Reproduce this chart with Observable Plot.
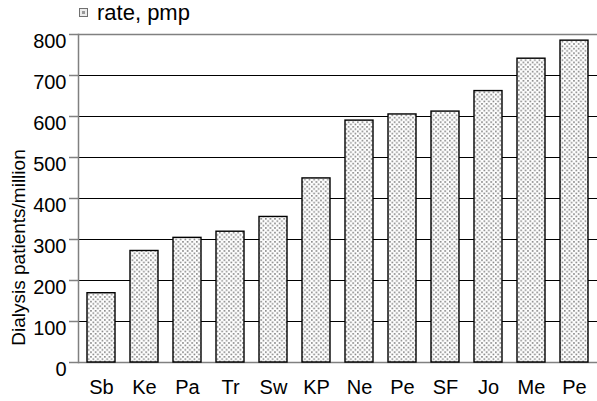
<!DOCTYPE html>
<html>
<head>
<meta charset="utf-8">
<script src="https://cdn.jsdelivr.net/npm/d3@7"></script>
<script src="https://cdn.jsdelivr.net/npm/@observablehq/plot@0.6"></script>
<style>
  html, body { margin: 0; padding: 0; background: #fff; }
  body { width: 597px; height: 401px; overflow: hidden; font-family: "Liberation Sans", Arial, sans-serif; }
  #legend { position: relative; height: 22px; }
  #legend .swatch { position: absolute; left: 79px; top: 8px; width: 7px; height: 7px; border: 1px solid #707070; background: #ececec; }
  #legend .swatch::after { content: ""; position: absolute; left: 2px; top: 2px; width: 3px; height: 3px; background: #9a9a9a; }
  #legend .label { position: absolute; left: 97px; top: 2px; font-size: 22px; line-height: 22px; color: #000; }
  svg { display: block; }
</style>
</head>
<body>
<div id="legend"><span class="swatch"></span><span class="label">rate, pmp</span></div>
<div id="chart"></div>
<script>
// Dialysis patients per million population, by centre
const centres = ["Sb", "Ke", "Pa", "Tr", "Sw", "KP", "Ne", "Pe", "SF", "Jo", "Me", "Pe"];
const rates = [169, 272, 304, 319, 355, 449, 590, 605, 612, 662, 741, 785];
const yTicks = [0, 100, 200, 300, 400, 500, 600, 700, 800];
const yLabel = "Dialysis patients/million";

// centre names repeat ("Pe"), so bars are keyed by position
const rows = centres.map((name, i) => ({i, name, rate: rates[i]}));
const innerGrid = yTicks.filter(t => t > 0 && t < 800);

const chart = Plot.plot({
  width: 597,
  height: 379,
  marginLeft: 78,
  marginRight: 0,
  marginTop: 12,
  marginBottom: 39,
  style: {fontFamily: "'Liberation Sans', Arial, sans-serif", fontSize: "20px", color: "#000", background: "#fff"},
  x: {type: "band", domain: d3.range(centres.length), paddingInner: 0.35, paddingOuter: 0.17, label: null},
  y: {domain: [0, 800], label: null},
  marks: [
    Plot.ruleY(innerGrid, {stroke: "#000", strokeWidth: 1}),
    Plot.ruleY([0, 800], {stroke: "#808080", strokeWidth: 1.5}),
    Plot.frame({anchor: "left", stroke: "#808080", strokeWidth: 1.5}),
    Plot.barY(rows, {x: "i", y: "rate", fill: "url(#dots)", stroke: "#000", strokeWidth: 1.4}),
    // tick marks sit on the gridlines; the numbers hang just below them
    Plot.axisY({ticks: yTicks, tickSize: 9, tickFormat: () => "", stroke: "#808080", strokeWidth: 1.5, label: null}),
    Plot.axisY({ticks: yTicks, tickSize: 0, tickPadding: 12, dy: 7, label: null, fontSize: 20}),
    Plot.axisX({tickSize: 0, tickPadding: 17, tickFormat: i => centres[i], label: null, fontSize: 20}),
    Plot.text([yLabel], {frameAnchor: "left", dx: -60, dy: 49, rotate: -90, fontSize: 19, textAnchor: "middle"})
  ]
});

// stippled fill used by the bars
const defs = d3.select(chart).insert("defs", ":first-child");
const pat = defs.append("pattern")
  .attr("id", "dots")
  .attr("patternUnits", "userSpaceOnUse")
  .attr("width", 4.6).attr("height", 4.6);
pat.append("rect").attr("width", 4.6).attr("height", 4.6).attr("fill", "#fff");
pat.append("rect").attr("x", 0.5).attr("y", 0.5).attr("width", 1.6).attr("height", 1.6).attr("fill", "#808080");
pat.append("rect").attr("x", 2.8).attr("y", 2.8).attr("width", 1.6).attr("height", 1.6).attr("fill", "#808080");

document.getElementById("chart").appendChild(chart);
</script>
</body>
</html>
